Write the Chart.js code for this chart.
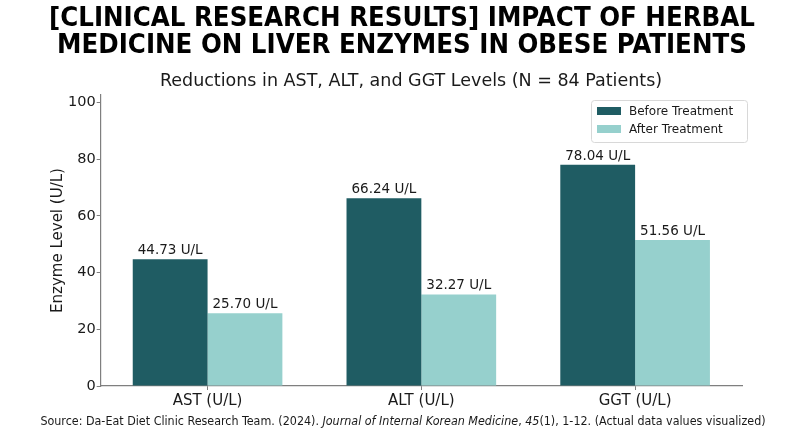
<!DOCTYPE html>
<html>
<head>
<meta charset="utf-8">
<script src="https://cdn.jsdelivr.net/npm/chart.js@4.4.1/dist/chart.umd.min.js"></script>
<style>
  html, body { margin: 0; padding: 0; background: #fff; }
  #wrap { width: 800px; height: 436px; }
</style>
</head>
<body>
<div id="wrap"><canvas id="enzymeChart"></canvas></div>
<script>
// chart values
const categories = ["AST (U/L)", "ALT (U/L)", "GGT (U/L)"];
const beforeValues = [44.73, 66.24, 78.04];
const afterValues = [25.70, 32.27, 51.56];
const seriesNames = ["Before Treatment", "After Treatment"];
const yTicks = [0, 20, 40, 60, 80, 100];

const titleLines = [
    "[CLINICAL RESEARCH RESULTS] IMPACT OF HERBAL",
    "MEDICINE ON LIVER ENZYMES IN OBESE PATIENTS"
];
const subtitleText = "Reductions in AST, ALT, and GGT Levels (N = 84 Patients)";
// [text, italic]
const sourceParts = [
    ["Source: Da-Eat Diet Clinic Research Team. (2024). ", false],
    ["Journal of Internal Korean Medicine", true],
    [", ", false],
    ["45", true],
    ["(1), 1-12. (Actual data values visualized)", false]
];

const darkTeal = "#1f5c63";
const lightTeal = "#96d0cd";
const axisGray = "#7f7f7f";
const textColor = "#1a1a1a";
const baseFont = "'DejaVu Sans', sans-serif";
const condFont = "'DejaVu Sans Condensed', 'DejaVu Sans', sans-serif";

// value labels above each bar
const barLabels = {
    id: "barLabels",
    afterDatasetsDraw(chart) {
        const ctx = chart.ctx;
        ctx.save();
        ctx.font = "13.5px " + baseFont;
        ctx.fillStyle = textColor;
        ctx.textAlign = "center";
        ctx.textBaseline = "bottom";
        chart.data.datasets.forEach((ds, i) => {
            chart.getDatasetMeta(i).data.forEach((bar, j) => {
                ctx.fillText(ds.data[j].toFixed(2) + " U/L", bar.x, bar.y - 2);
            });
        });
        ctx.restore();
    }
};

// legend box in upper right of plot
const legendBox = {
    id: "legendBox",
    afterDraw(chart) {
        const ctx = chart.ctx;
        const area = chart.chartArea;
        const w = 156, h = 42;
        const x = area.right + 5 - w, y = area.top + 5;
        ctx.save();
        ctx.fillStyle = "rgba(255,255,255,0.8)";
        ctx.strokeStyle = "#d8d8d8";
        ctx.lineWidth = 1;
        ctx.beginPath();
        ctx.roundRect(x + 0.5, y + 0.5, w, h, 3);
        ctx.fill();
        ctx.stroke();
        ctx.font = "12px " + baseFont;
        ctx.textBaseline = "middle";
        ctx.textAlign = "left";
        chart.data.datasets.forEach((ds, i) => {
            const ry = y + 11 + i * 18;
            ctx.fillStyle = ds.backgroundColor;
            ctx.fillRect(x + 6, ry - 4, 24, 8);
            ctx.fillStyle = textColor;
            ctx.fillText(ds.label, x + 38, ry + 1);
        });
        ctx.restore();
    }
};

// two-line title, subtitle and source note
const textBlocks = {
    id: "textBlocks",
    afterDraw(chart) {
        const ctx = chart.ctx;
        const cx = chart.width / 2;
        ctx.save();
        ctx.fillStyle = "#000";
        ctx.textAlign = "center";
        ctx.textBaseline = "middle";
        ctx.font = "bold 27.3px " + condFont;
        ctx.fillText(titleLines[0], cx + 2, 19);
        ctx.fillText(titleLines[1], cx + 2, 46);
        ctx.font = "17.5px " + baseFont;
        ctx.fillStyle = textColor;
        ctx.fillText(subtitleText, cx + 11, 81);

        // source line with italic segments
        const fontFor = it => (it ? "italic " : "") + "12.4px " + condFont;
        let total = 0;
        sourceParts.forEach(p => { ctx.font = fontFor(p[1]); total += ctx.measureText(p[0]).width; });
        let x = cx + 3 - total / 2;
        ctx.textAlign = "left";
        sourceParts.forEach(p => {
            ctx.font = fontFor(p[1]);
            ctx.fillText(p[0], x, 422);
            x += ctx.measureText(p[0]).width;
        });
        ctx.restore();
    }
};

const ctx = document.getElementById("enzymeChart").getContext("2d");
new Chart(ctx, {
    type: "bar",
    data: {
        labels: categories,
        datasets: [
            { label: seriesNames[0], data: beforeValues, backgroundColor: darkTeal },
            { label: seriesNames[1], data: afterValues, backgroundColor: lightTeal }
        ]
    },
    options: {
        responsive: true,
        maintainAspectRatio: false,
        animation: false,
        devicePixelRatio: 1,
        layout: { padding: { left: 45, right: 58, top: 95, bottom: 24 } },
        datasets: {
            bar: { categoryPercentage: 0.7, barPercentage: 1.0 }
        },
        plugins: {
            legend: { display: false },
            title: { display: false },
            tooltip: { enabled: false }
        },
        scales: {
            x: {
                grid: { display: true, offset: false, drawOnChartArea: false, drawTicks: true, tickLength: 4, color: axisGray },
                border: { color: axisGray, width: 1.2 },
                ticks: { color: textColor, font: { family: baseFont, size: 15 }, padding: 2 }
            },
            y: {
                min: 0,
                max: 102.7,
                afterBuildTicks(scale) { scale.ticks = yTicks.map(v => ({ value: v })); },
                grid: { display: true, drawOnChartArea: false, drawTicks: true, tickLength: 4, color: axisGray },
                border: { color: axisGray, width: 1.2 },
                ticks: { color: textColor, font: { family: baseFont, size: 14.5 }, padding: 1 },
                title: { display: true, text: "Enzyme Level (U/L)", color: textColor, font: { family: baseFont, size: 15 }, padding: { top: 4, bottom: 0 } }
            }
        }
    },
    plugins: [barLabels, legendBox, textBlocks]
});
</script>
</body>
</html>
